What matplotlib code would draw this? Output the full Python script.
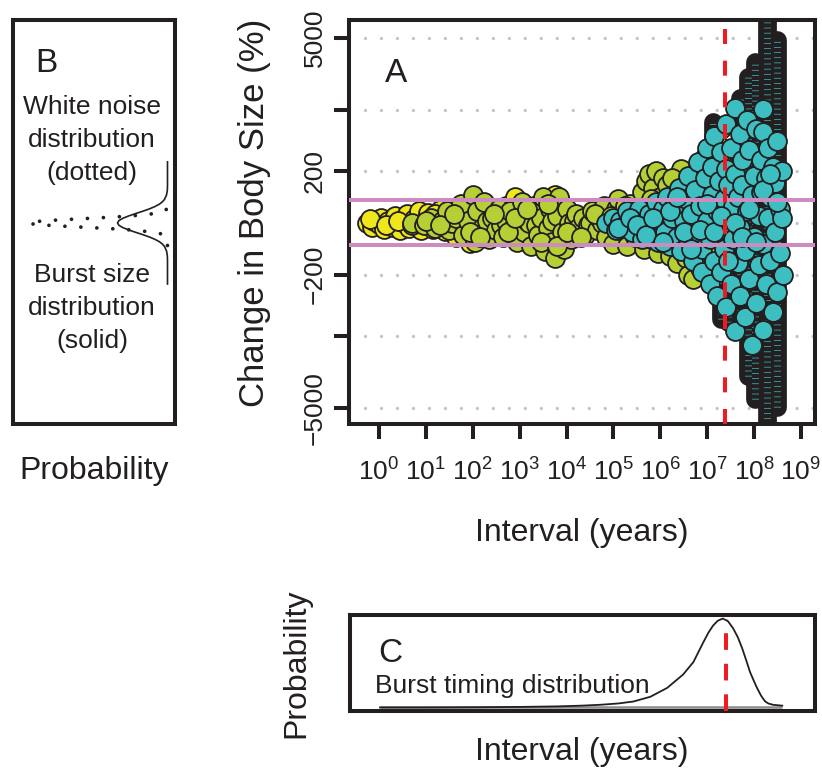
import numpy as np
import matplotlib
matplotlib.use("Agg")
import matplotlib.pyplot as plt
from matplotlib.ticker import NullLocator

plt.rcParams["font.family"] = ["Liberation Sans", "DejaVu Sans"]
plt.rcParams["mathtext.fontset"] = "custom"
plt.rcParams["mathtext.rm"] = "Liberation Sans"
plt.rcParams["mathtext.it"] = "Liberation Sans:italic"
plt.rcParams["mathtext.bf"] = "Liberation Sans:bold"
plt.rcParams["lines.scale_dashes"] = False

# change in body size per interval: x as log10(years), y as log size ratio
yellow_logx = [-0.25, -0.15, -0.1, 0.0, 0.05, 0.1, 0.2, 0.3, 0.35, 0.45,
               0.5, 0.6, 0.65, 0.75, 0.85, 0.9, 1.0, 1.05, 1.15, 1.25,
               1.3, 1.4, 1.5, 1.55, 1.65, 1.7, 1.8, 1.85, 1.95, 2.0,
               2.1, 2.15, 2.25, 2.4, 2.7, 2.9, 3.0, 3.75, 3.85,
               -0.2, 0.15, 0.4, 0.7, 0.95, 1.2, 1.45, 1.75, 2.05]
yellow_y = [0.0, -0.08, 0.05, -0.02, 0.1, -0.12, 0.05, -0.08, 0.15, -0.15,
            0.02, 0.2, -0.1, 0.08, 0.25, -0.15, 0.05, 0.22, -0.12, 0.1,
            0.28, -0.18, 0.05, 0.3, -0.3, 0.15, -0.05, 0.35, -0.42, 0.1,
            -0.2, 0.45, 0.0, -0.3, 0.35, 0.55, -0.25, 0.6, 0.5,
            0.08, -0.05, 0.05, -0.05, 0.0, 0.2, 0.15, -0.2, 0.3]

green_logx = [0.7, 0.95, 1.1, 1.2, 1.35, 1.45, 1.5, 1.55, 1.65, 1.75,
              1.8, 1.9, 2.0, 2.05, 2.1, 2.2, 2.25, 2.3, 2.35, 2.4,
              2.5, 2.55, 2.6, 2.65, 2.7, 2.8, 2.85, 2.95, 3.0, 3.05,
              3.1, 3.15, 3.2, 3.25, 3.3, 3.35, 3.4, 3.45, 3.5, 3.55,
              3.6, 3.65, 3.7, 3.7, 3.75, 3.8, 3.85, 3.9, 3.95, 4.0,
              4.05, 4.1, 4.15, 4.2, 4.25, 4.35, 4.4, 4.45, 4.5, 4.55,
              4.65, 4.7, 4.75, 4.8, 4.85, 4.9, 5.0, 5.05, 5.1, 5.15,
              5.2, 5.25, 5.3, 5.35, 5.45, 5.5, 5.55, 5.6, 5.65, 5.7,
              5.75, 5.8, 5.85, 5.9, 5.95, 6.0, 6.05, 6.1, 6.15, 6.2,
              6.3, 6.35, 6.45, 6.5, 6.55, 6.6, 6.65, 6.7, 6.8, 6.85,
              6.95, 7.05, 7.1, 7.2, 7.3, 7.35,
              1.0, 1.3, 1.6, 1.95, 2.15, 2.45, 2.75, 2.9, 3.15, 3.45,
              3.6, 3.8, 4.0, 4.3, 4.6, 4.95, 5.25, 5.4, 5.6, 5.8,
              6.0, 6.25, 6.4, 6.6, 6.75, 6.9]
green_y = [0.0, -0.05, 0.1, -0.1, 0.05, 0.25, -0.15, 0.0, 0.1, 0.4,
           -0.25, 0.05, 0.6, -0.4, 0.25, -0.1, 0.45, 0.05, -0.35, 0.1,
           -0.15, 0.3, -0.05, -0.3, 0.05, 0.25, -0.1, -0.4, 0.15, 0.45,
           -0.2, 0.05, 0.0, -0.5, 0.35, -0.05, -0.25, 0.1, 0.55, -0.6,
           -0.1, 0.3, -0.4, 0.05, -0.75, 0.15, 0.55, -0.2, -0.55, 0.3,
           0.0, -0.35, 0.05, 0.2, -0.1, 0.1, -0.25, -0.05, 0.0, 0.25,
           -0.15, 0.1, 0.0, 0.35, -0.3, 0.05, -0.45, 0.3, 0.5, -0.15,
           -0.05, 0.15, -0.5, 0.4, -0.3, 0.05, 0.15, 0.65, -0.55, 0.9,
           1.05, -0.35, 0.75, 1.1, -0.65, 0.55, 0.95, -0.45, 0.8, -0.7,
           0.6, -0.85, 1.15, 0.85, -0.75, -1.1, 1.0, -1.2, 1.2, -0.95,
           1.4, 1.1, -0.7, 1.7, 2.0, 1.5,
           0.05, -0.05, 0.2, -0.2, -0.3, 0.2, -0.2, 0.1, 0.3, -0.4,
           0.4, -0.5, -0.2, -0.3, 0.2, 0.15, 0.35, -0.15, -0.3, 0.5,
           -0.3, 0.95, 0.4, 0.65, -0.6, 0.8]

cyan_logx = [4.85, 5.0, 5.05, 5.15, 5.25, 5.3, 5.4, 5.45, 5.55, 5.6,
             5.65, 5.75, 5.8, 5.9, 5.95, 6.0, 6.05, 6.1, 6.15, 6.2,
             6.25, 6.3, 6.35, 6.4, 6.45, 6.5, 6.55, 6.6, 6.6, 6.65,
             6.7, 6.75, 6.8, 6.8, 6.85, 6.9, 6.9, 6.95, 7.0, 7.0,
             7.05, 7.05, 7.1, 7.1, 7.15, 7.15, 7.2, 7.2, 7.25, 7.25,
             7.3, 7.3, 7.35, 7.35, 7.4, 7.4, 7.4, 7.45, 7.45, 7.5,
             7.5, 7.55, 7.55, 7.6, 7.6, 7.6, 7.65, 7.65, 7.7, 7.7,
             7.7, 7.75, 7.75, 7.8, 7.8, 7.85, 7.85, 7.9, 7.9, 7.95,
             7.95, 8.0, 8.0, 8.05, 8.05, 8.1, 8.1, 8.15, 8.15, 8.2,
             8.2, 8.2, 8.2, 8.25, 8.25, 8.3, 8.3, 8.35, 8.35, 8.4,
             8.4, 8.45, 8.45, 8.5, 8.5, 8.55, 8.55, 8.6, 8.6, 8.62,
             5.1, 5.35, 5.5, 5.7, 5.85, 6.05, 6.2, 6.35, 6.5, 6.65,
             6.85, 7.0, 7.15, 7.3, 7.45, 7.6, 7.75, 7.9, 8.05, 8.2,
             8.35, 8.5]
cyan_y = [0.0, 0.1, -0.15, 0.05, -0.05, 0.25, -0.2, 0.05, 0.3, -0.35,
          0.0, 0.2, -0.15, 0.45, -0.4, 0.05, 0.3, -0.2, 0.55, -0.5,
          0.1, 0.35, -0.3, 0.75, -0.6, 0.05, 0.5, -0.35, 1.0, 0.2,
          -0.8, 0.7, -0.2, 1.3, 0.35, -0.55, -1.05, 0.95, 0.05, 1.6,
          -0.35, -1.3, 0.6, 1.2, -0.8, 1.85, 0.25, -1.55, 0.9, -0.15,
          1.5, -1.05, 0.5, -0.55, 2.1, 1.15, -1.8, 0.0, 0.8, -1.3,
          1.6, -0.35, 0.35, -2.3, 2.45, 1.05, -0.85, 0.55, 1.9, -1.55,
          -0.1, 1.35, 0.8, -2.0, -0.6, 0.25, 2.2, -1.2, 1.55, 0.6,
          -2.6, -0.3, 1.0, 2.0, -1.7, 0.15, -0.9, 1.35, 0.65, 2.43,
          1.94, -2.28, -0.45, 0.95, -1.3, 0.1, 1.6, -0.8, 0.55, -1.9,
          1.2, -0.2, 0.85, -1.48, 1.75, 0.3, -0.65, 0.1, 1.1, -1.1,
          -0.1, 0.1, -0.05, -0.25, 0.1, -0.4, 0.25, 0.55, -0.2, -0.55,
          -0.15, 0.4, -0.2, 0.15, -0.8, 0.0, -0.3, 0.3, -0.4, 0.7,
          1.05, 0.45]

# tightly stacked runs of points at long intervals (log10 years, top, bottom)
column_logx = [7.13, 7.3, 7.45, 7.7, 7.88, 8.03, 8.27, 8.48]
column_top = [2.15, -1.5, -1.6, 2.66, 3.1, 3.43, 4.6, 3.9]
column_bottom = [1.55, -2.05, -2.1, -2.2, -3.26, -3.75, -4.6, -3.92]

# y axis ticks in percent change
ytick_pct = [-5000, -1000, -200, 200, 1000, 5000]
ytick_labels = ["\u22125000", "", "\u2212200", "200", "", "5000"]
noise_band = 0.48          # white noise limits (log ratio)
burst_peak_logx = 7.39     # most likely burst timing

# panel B: burst size (solid) and white noise (dotted) densities
size_y = [-1.3, -0.8, -0.7, -0.6, -0.5, -0.45, -0.4, -0.35, -0.3, -0.25,
          -0.2, -0.15, -0.1, -0.05, 0.0, 0.05, 0.1, 0.15, 0.2, 0.25,
          0.3, 0.35, 0.4, 0.45, 0.5, 0.6, 0.7, 0.8, 1.3]
size_prob = [0.0, 0.0, 0.001, 0.006, 0.02, 0.034, 0.054, 0.083, 0.12, 0.164,
             0.212, 0.258, 0.297, 0.324, 0.333, 0.324, 0.297, 0.258, 0.212, 0.164,
             0.12, 0.083, 0.054, 0.034, 0.02, 0.006, 0.001, 0.0, 0.0]
noise_y = [-0.48, -0.4, -0.3, -0.25, -0.2, -0.15, -0.125, -0.1, -0.075, -0.05,
           -0.025, 0.0, 0.025, 0.05, 0.075, 0.1, 0.125, 0.15, 0.2, 0.25,
           0.3, 0.4, 0.48]
noise_prob = [0.0, 0.0, 0.004, 0.021, 0.083, 0.238, 0.361, 0.507, 0.66, 0.797,
              0.893, 0.927, 0.893, 0.797, 0.66, 0.507, 0.361, 0.238, 0.083, 0.021,
              0.004, 0.0, 0.0]

# panel C: burst timing density over log10(years)
timing_logx = [0.0, 1.0, 2.0, 3.0, 3.8, 4.3, 4.71, 5.1, 5.42, 5.78,
               6.14, 6.48, 6.7, 6.91, 7.02, 7.12, 7.22, 7.33, 7.44, 7.55,
               7.65, 7.74, 7.83, 7.91, 8.0, 8.06, 8.15, 8.23, 8.3, 8.4, 8.6]
timing_prob = [0.0, 0.0, 0.002, 0.006, 0.012, 0.02, 0.03, 0.045, 0.067, 0.12,
               0.22, 0.37, 0.51, 0.73, 0.84, 0.92, 0.975, 1.0, 0.97, 0.89,
               0.79, 0.67, 0.53, 0.40, 0.29, 0.22, 0.13, 0.07, 0.045, 0.03, 0.02]

INK = "#231f20"
YELLOW = "#efe61c"
GREEN = "#b5cf35"
CYAN = "#3dbfc2"
PINK = "#cd8cc0"
RED = "#ed1c24"
GRID = "#c4c4c4"

W, H = 822, 769
fig = plt.figure(figsize=(W / 100, H / 100), dpi=100)


def box(left, top, right, bottom):
    return [left / W, 1 - bottom / H, (right - left) / W, (bottom - top) / H]


def px(x, y):
    return x / W, 1 - y / H


axA = fig.add_axes(box(349, 20, 815, 424))
axB = fig.add_axes(box(13, 20, 175, 424))
axC = fig.add_axes(box(350, 615, 815, 711))

for ax in (axA, axB, axC):
    for sp in ax.spines.values():
        sp.set_linewidth(2.9)
        sp.set_color(INK)

# ---- panel A ----
ylo, yhi = -4.28, 4.32
ytick_pos = [np.sign(p) * np.log1p(abs(p) / 100) for p in ytick_pct]
axA.set_xscale("log")
axA.set_xlim(10 ** -0.64, 10 ** 9.3)
axA.set_ylim(ylo, yhi)

for g in [0.0] + ytick_pos:
    axA.axhline(g, color=GRID, lw=2.4, dashes=(0.01, 11.5),
                dash_capstyle="round", zorder=0)

mk = dict(s=185, edgecolors=INK, linewidths=1.3)
axA.scatter(10 ** np.array(yellow_logx), yellow_y, c=YELLOW, zorder=2, **mk)
axA.scatter(10 ** np.array(green_logx), green_y, c=GREEN, zorder=2.1, **mk)

cx = 10 ** np.array(column_logx)
axA.vlines(cx, column_bottom, column_top, colors=INK, lw=13.5,
           capstyle="round", zorder=2.2)
axA.vlines(cx, column_bottom, column_top, colors=CYAN, lw=5,
           linestyles=[(0, (0.5, 3.2))], capstyle="butt", zorder=2.3)

axA.scatter(10 ** np.array(cyan_logx), cyan_y, c=CYAN, zorder=2.4, **mk)

for b in (noise_band, -noise_band):
    axA.axhline(b, color=PINK, lw=2.9, zorder=4)
axA.axvline(10 ** burst_peak_logx, color=RED, lw=2.9,
            dashes=(10.8, 12), zorder=5)

decades = np.arange(10)
axA.set_xticks(10.0 ** decades, [f"$10^{{{d}}}$" for d in decades])
axA.xaxis.set_minor_locator(NullLocator())
axA.set_yticks(ytick_pos, ytick_labels, rotation=90, va="center")
axA.tick_params(axis="both", which="major", direction="out", length=11,
                width=2.9, color=INK, labelsize=19, labelcolor=INK)
axA.tick_params(axis="x", pad=14)
axA.tick_params(axis="y", pad=5)

fig.text(*px(396, 82), "A", fontsize=24, color=INK, ha="center", va="baseline")
fig.text(*px(582, 541), "Interval (years)", fontsize=23, color=INK,
         ha="center", va="baseline")
fig.text(*px(254, 213), "Change in Body Size (%)", fontsize=25, color=INK,
         rotation=90, ha="center", va="center")

# ---- panel B ----
axB.set_xlim(1.03, -0.05)
axB.set_ylim(ylo, yhi)
axB.set_xticks([])
axB.set_yticks([])
axB.plot(size_prob, size_y, color=INK, lw=1.2)
axB.plot(noise_prob, noise_y, color=INK, lw=2.7, dashes=(0.01, 11.5),
         dash_capstyle="round")

fig.text(*px(46, 72), "B", fontsize=24, color=INK, ha="center", va="baseline")
for yb, s in zip([114, 147, 180, 282, 315, 348],
                 ["White noise", "distribution", "(dotted)",
                  "Burst size", "distribution", "(solid)"]):
    fig.text(*px(92, yb), s, fontsize=19, color=INK, ha="center", va="baseline")
fig.text(*px(94, 479), "Probability", fontsize=23, color=INK,
         ha="center", va="baseline")

# ---- panel C ----
axC.set_xscale("log")
axC.set_xlim(10 ** -0.64, 10 ** 9.3)
axC.set_ylim(-0.04, 1.04)
axC.set_xticks([])
axC.set_yticks([])
axC.xaxis.set_minor_locator(NullLocator())
tx = 10 ** np.array(timing_logx)
axC.hlines(0, tx[0], tx[-1], color="#8c8c8c", lw=1.8)
axC.plot(tx, timing_prob, color=INK, lw=1.3)
axC.vlines(10 ** burst_peak_logx, -0.04, 1.0, colors=RED, lw=2.9,
           linestyles=[(0, (12, 10))], zorder=5)

fig.text(*px(390, 662), "C", fontsize=24, color=INK, ha="center", va="baseline")
fig.text(*px(375, 693), "Burst timing distribution", fontsize=19, color=INK,
         ha="left", va="baseline")
fig.text(*px(296, 663), "Probability", fontsize=23, color=INK,
         rotation=90, ha="center", va="center")
fig.text(*px(582, 760), "Interval (years)", fontsize=23, color=INK,
         ha="center", va="baseline")

fig.savefig("out.png", dpi=100, facecolor="white")
